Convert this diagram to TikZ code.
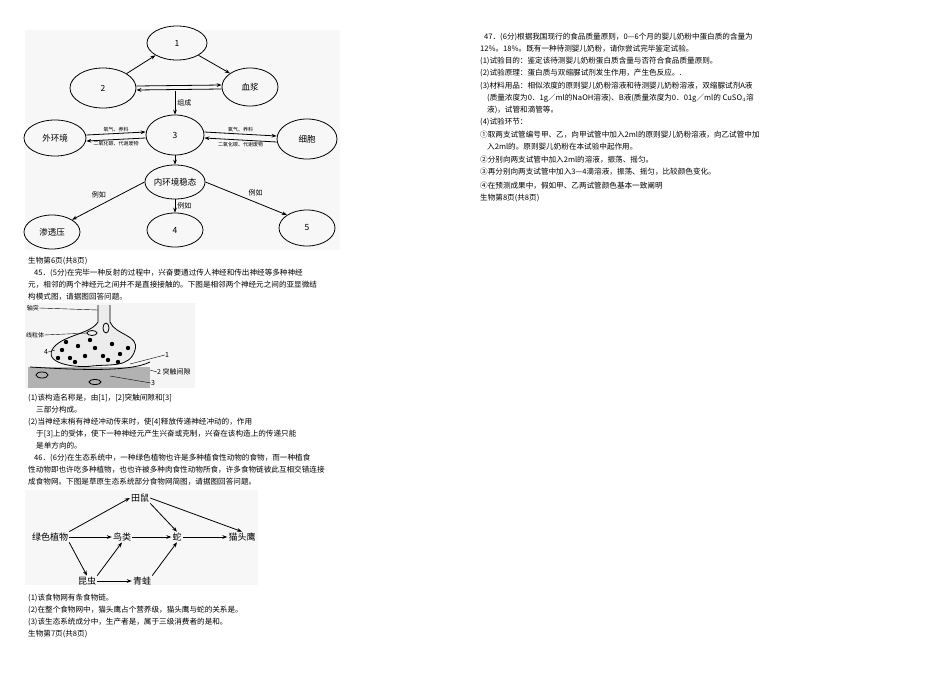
\documentclass[tikz,border=0pt]{standalone}
\usepackage{fontspec}
\setmainfont{Noto Sans CJK SC}
\usetikzlibrary{arrows.meta,shapes.geometric}
\begin{document}
\begin{tikzpicture}[x=1pt,y=-1pt,
 tx/.style={anchor=west,inner sep=0pt,font=\fontsize{7.6}{8}\selectfont},
 el/.style={draw,thick,ellipse,minimum width=56pt,minimum height=34pt,inner sep=0pt,font=\fontsize{8.5}{9}\selectfont},
 lb/.style={font=\fontsize{5}{6}\selectfont,inner sep=1.5pt},
 lc/.style={font=\fontsize{7}{8}\selectfont,inner sep=2pt},
 ar/.style={thick,-{Stealth[length=5pt]}},
 fw/.style={inner sep=1pt,font=\fontsize{9}{10}\selectfont}]
\useasboundingbox (0,0) rectangle (950,672);
\fill[white] (0,0) rectangle (950,672);
\fill[gray!6] (25,30) rectangle (340,250);
% diagram 1
\node[el,minimum width=60pt] (n1) at (177,43) {1};
\node[el,minimum width=66pt,minimum height=40pt] (n2) at (103,88) {2};
\node[el,minimum height=38pt] (xj) at (250,87) {血浆};
\node[el,minimum width=58pt,minimum height=40pt] (n3) at (175,135) {3};
\node[el,minimum width=62pt,minimum height=36pt] (wh) at (55,138) {外环境};
\node[el,minimum width=60pt,minimum height=40pt] (xb) at (307,139) {细胞};
\node[el] (wt) at (175,182) {内环境稳态};
\node[el] (sy) at (52,232) {渗透压};
\node[el] (n4) at (175,230) {4};
\node[el,minimum height=36pt] (n5) at (307,228) {5};
\draw[ar] (n2.north east) -- (n1.south west);
\draw[ar] (n1.south east) -- (xj.north west);
\draw[ar] ([yshift=2pt]n2.east) -- ([yshift=2pt]xj.west);
\draw[ar] ([yshift=-2pt]xj.west) -- ([yshift=-2pt]n2.east);
\coordinate (zc) at (175,91);
\draw[ar] (zc) -- (n3.north) node[midway,right,lc]{组成};
\draw[ar] ([yshift=3pt]wh.east) -- ([yshift=3pt]n3.west) node[midway,above,lb]{氧气、养料};
\draw[ar] ([yshift=-3pt]n3.west) -- ([yshift=-3pt]wh.east) node[midway,below,lb]{二氧化碳、代谢废物};
\draw[ar] ([yshift=3pt]n3.east) -- ([yshift=3pt]xb.west) node[midway,above,lb]{氧气、养料};
\draw[ar] ([yshift=-3pt]xb.west) -- ([yshift=-3pt]n3.east) node[midway,below,lb]{二氧化碳、代谢废物};
\draw[ar] (n3.south) -- (wt.north);
\draw[ar] (wt.west) -- (sy.north east) node[midway,above left,lc]{例如};
\draw[ar] (wt.south) -- (n4.north) node[midway,right,lc]{例如};
\draw[ar] (wt.east) -- (n5.north west) node[midway,above right,lc]{例如};
% left text
\node[tx] at (28,261) {生物第6页(共8页)};
\node[tx] at (34,273) {45．(5分)在完毕一种反射的过程中，兴奋要通过传人神经和传出神经等多种神经};
\node[tx] at (28,285) {元，相邻的两个神经元之间并不是直接接触的。下图是相邻两个神经元之间的亚显微结};
\node[tx] at (28,297) {构模式图，请据图回答问题。};
% synapse
\fill[gray!8] (25,303) rectangle (195,388);
\fill[gray!60] (28,367) rectangle (150,388);
\draw[thick,fill=gray!15] (98,305) -- (98,322) .. controls (90,335) and (60,335) .. (52,350)
  .. controls (45,365) and (80,368) .. (92,366) .. controls (110,364) and (130,368) .. (135,350)
  .. controls (140,335) and (115,335) .. (110,322) -- (110,305);
\draw[thick] (30,367) .. controls (80,370) and (130,372) .. (150,362);
\foreach \p in {(62,350),(70,358),(78,346),(85,356),(95,348),(103,356),(112,344),(120,354),(128,348),(66,342),(90,340),(108,360),(75,362),(118,362),(58,358)}
  \fill \p circle (2.2pt);
\draw[thick] (92,333) ellipse (5pt and 2.5pt);
\draw[thick] (106,328) ellipse (3pt and 5pt);
\draw[thick] (42,375) ellipse (6pt and 3pt);
\draw[thick] (95,382) ellipse (6pt and 2.5pt);
\node[inner sep=0pt,font=\fontsize{6}{7}\selectfont] (zt) at (33,308) {轴突};
\node[inner sep=0pt,font=\fontsize{6}{7}\selectfont] (xl) at (35,335) {线粒体};
\node[inner sep=0pt,font=\fontsize{7}{8}\selectfont] (l4) at (46,352) {4};
\node[inner sep=0pt,font=\fontsize{7}{8}\selectfont] (l1) at (167,355) {1};
\node[inner sep=0pt,font=\fontsize{7}{8}\selectfont,anchor=west] (l2) at (157,372) {2 突触间隙};
\node[inner sep=0pt,font=\fontsize{7}{8}\selectfont] (l3) at (153,383) {3};
\coordinate (c1) at (98,310); \coordinate (c2) at (88,333); \coordinate (c3) at (55,350);
\coordinate (c4) at (130,364); \coordinate (c5) at (150,370); \coordinate (c6) at (110,376);
\draw (zt.east) -- (c1); \draw (xl.east) -- (c2); \draw (l4.east) -- (c3);
\draw (l1.west) -- (c4); \draw (l2.west) -- (c5); \draw (l3.west) -- (c6);
\node[tx] at (28,398) {(1)该构造名称是，由[1]，[2]突触间隙和[3]};
\node[tx] at (36,410) {三部分构成。};
\node[tx] at (28,422) {(2)当神经末梢有神经冲动传来时，使[4]释放传递神经冲动的，作用};
\node[tx] at (36,434) {于[3]上的受体，使下一种神经元产生兴奋或克制，兴奋在该构造上的传递只能};
\node[tx] at (36,446) {是单方向的。};
\node[tx] at (34,458) {46．(6分)在生态系统中，一种绿色植物也许是多种植食性动物的食物，而一种植食};
\node[tx] at (28,470) {性动物即也许吃多种植物，也也许被多种肉食性动物所食，许多食物链彼此互相交错连接};
\node[tx] at (28,482) {成食物网。下图是草原生态系统部分食物网简图，请据图回答问题。};
% food web
\fill[gray!6] (25,490) rectangle (258,585);
\node[fw] (ts) at (140,498) {田鼠};
\node[fw] (lz) at (50,537) {绿色植物};
\node[fw] (nl) at (122,537) {鸟类};
\node[fw] (she) at (177,537) {蛇};
\node[fw] (mty) at (242,537) {猫头鹰};
\node[fw] (kc) at (87,581) {昆虫};
\node[fw] (qw) at (142,581) {青蛙};
\draw[ar] (lz.north east) -- (ts.west);
\draw[ar] (lz.east) -- (nl.west);
\draw[ar] (lz.south east) -- (kc.north);
\draw[ar] (kc.north east) -- (nl.south);
\draw[ar] (kc.east) -- (qw.west);
\draw[ar] (nl.east) -- (she.west);
\draw[ar] (qw.north east) -- (she.south);
\draw[ar] (ts.south east) -- (she.north);
\draw[ar] (ts.east) -- (mty.north);
\draw[ar] (she.east) -- (mty.west);
\node[tx] at (28,598) {(1)该食物网有条食物链。};
\node[tx] at (28,610) {(2)在整个食物网中，猫头鹰占个营养级，猫头鹰与蛇的关系是。};
\node[tx] at (28,622) {(3)该生态系统成分中，生产者是，属于三级消费者的是和。};
\node[tx] at (28,634) {生物第7页(共8页)};
% right column
\node[tx] at (484,37) {47．(6分)根据我国现行的食品质量原则，0—6个月的婴儿奶粉中蛋白质的含量为};
\node[tx] at (480,49) {12\%。18\%。既有一种待测婴儿奶粉，请你尝试完毕鉴定试验。};
\node[tx] at (480,61) {(1)试验目的：鉴定该待测婴儿奶粉蛋白质含量与否符合食品质量原则。};
\node[tx] at (480,73) {(2)试验原理：蛋白质与双缩脲试剂发生作用，产生色反应。.};
\node[tx] at (480,86) {(3)材料用品：相似浓度的原则婴儿奶粉溶液和待测婴儿奶粉溶液，双缩脲试剂A液};
\node[tx] at (487,98) {(质量浓度为0．1g／ml的NaOH溶液)、B液(质量浓度为0．01g／ml的 CuSO$_4$溶};
\node[tx] at (487,110) {液)，试管和滴管等。};
\node[tx] at (480,122) {(4)试验环节：};
\node[tx] at (480,135) {①取两支试管编号甲、乙，向甲试管中加入2ml的原则婴儿奶粉溶液，向乙试管中加};
\node[tx] at (487,147) {入2ml的。原则婴儿奶粉在本试验中起作用。};
\node[tx] at (480,160) {②分别向两支试管中加入2ml的溶液，振荡、摇匀。};
\node[tx] at (480,172) {③再分别向两支试管中加入3—4滴溶液，振荡、摇匀，比较颜色变化。};
\node[tx] at (480,186) {④在预测成果中，假如甲、乙两试管颜色基本一致阐明};
\node[tx] at (480,198) {生物第8页(共8页)};
\end{tikzpicture}
\end{document}
